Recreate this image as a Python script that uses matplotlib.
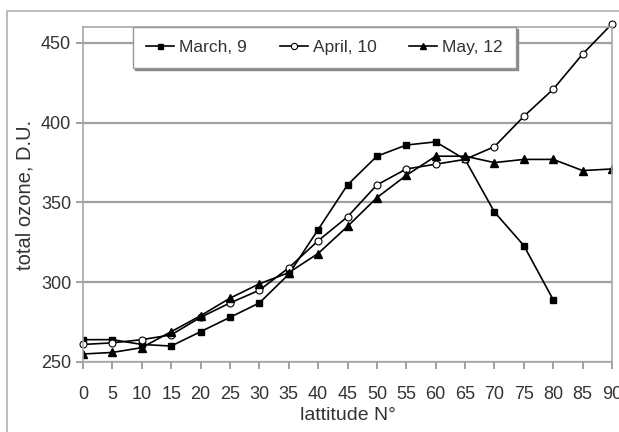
import numpy as np
import matplotlib
matplotlib.use('Agg')
import matplotlib.pyplot as plt
from matplotlib.patches import Rectangle

plt.rcParams['font.family'] = ['Liberation Sans', 'DejaVu Sans']

# latitude, degrees N
lat = [0, 5, 10, 15, 20, 25, 30, 35, 40, 45, 50, 55, 60, 65, 70, 75, 80, 85, 90]

# total ozone, D.U.
march = [264, 264, 261, 260, 269, 278, 287, 305, 333, 361, 379, 386, 388, 377, 344, 323, 289]
april = [261, 262, 264, 267, 278, 287, 295, 309, 326, 341, 361, 371, 374, 377, 385, 404, 421, 443, 462]
may = [255, 256, 259, 269, 279, 290, 299, 306, 318, 335, 353, 367, 379, 379, 375, 377, 377, 370, 371]

labels = ['March, 9', 'April, 10', 'May, 12']

fig = plt.figure(figsize=(6.19, 4.32), dpi=100)
ax = fig.add_axes([83/619, 1 - 362/432, (612 - 83)/619, (362 - 27)/432])

# outer frame of the picture
fig.patches.append(Rectangle((7/619, -0.1), 1.2, 1 - 11/432 + 0.1,
                             transform=fig.transFigure, fill=False,
                             edgecolor='#b0b0b0', linewidth=1.2))

ax.plot(lat[:len(march)], march, color='black', linewidth=1.2,
        marker='s', markersize=4, label=labels[0])
ax.plot(lat, april, color='black', linewidth=1.2, marker='o', markersize=5,
        markerfacecolor='white', markeredgewidth=0.8, label=labels[1],
        clip_on=False)
ax.plot(lat, may, color='black', linewidth=1.2, marker='^', markersize=5.5,
        label=labels[2])

ax.set_xlim(0, 90)
ax.set_ylim(250, 460)
ax.set_xticks(np.arange(0, 91, 5))
ax.set_yticks([250, 300, 350, 400, 450])

ax.yaxis.grid(True, color='#a0a0a0', linewidth=1.6)
ax.set_axisbelow(True)

for side in ['left', 'bottom', 'top', 'right']:
    ax.spines[side].set_color('#a8a8a8')
    ax.spines[side].set_linewidth(1.2)

ax.tick_params(axis='both', colors='#909090', labelcolor='#333333',
               labelsize=13, length=5, width=1.2, direction='out')
ax.tick_params(axis='x', pad=12)

ax.set_xlabel('lattitude N°', fontsize=14, color='#333333', labelpad=3)
ax.set_ylabel('total ozone, D.U.', fontsize=14.5, color='#333333')
ax.yaxis.set_label_coords(-0.092, 0.5)

leg = ax.legend(loc='upper left', bbox_to_anchor=(0.0945, 1.0), ncol=3,
                fontsize=12.5, frameon=True, fancybox=False,
                shadow={'color': '#888888', 'alpha': 1.0, 'ox': 1.5, 'oy': -1.5},
                handlelength=1.6, handletextpad=0.3, columnspacing=1.9,
                borderaxespad=0, borderpad=0.75, markerscale=0.9)
leg.get_frame().set_edgecolor('#999999')
leg.get_frame().set_linewidth(1.0)
for t in leg.get_texts():
    t.set_color('#333333')

fig.savefig('out.png', dpi=100)
